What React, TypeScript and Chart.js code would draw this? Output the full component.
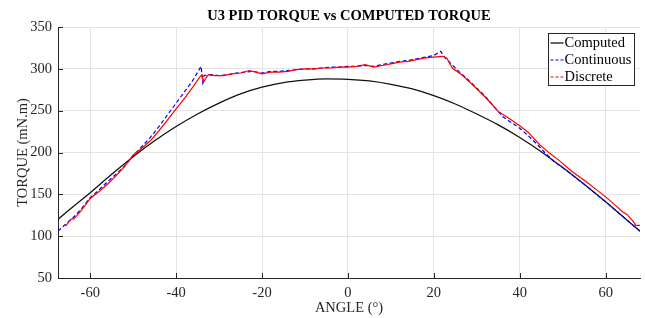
import React, { useEffect, useRef } from "react";
import { Chart, registerables } from "chart.js";

Chart.register(...registerables);

// ---- data ----
const computedAngle = [-67.5, -65, -60, -55, -50, -45, -40, -35, -30, -25, -20, -15, -10, -5, 0, 5, 10, 15, 20, 25, 30, 35, 40, 45, 50, 55, 60, 65, 68];
const computedTorque = [120, 131, 152, 174, 195, 214, 231, 246, 259, 270, 278, 283.5, 286.5, 288, 287.5, 285.5, 281.5, 276, 268, 258, 246, 233, 218, 201, 182, 162, 141, 119, 106];

const continuousAngle = [-67.5, -66, -64, -62, -60, -58, -56, -54, -52, -50, -48, -46, -44, -42, -40, -38, -36, -34.2, -33.8, -33.5, -32, -30, -28, -26, -24, -22, -20, -18, -16, -14, -12, -10, -8, -6, -4, -2, 0, 2, 4, 6, 8, 10, 12, 14, 16, 18, 20, 21.6, 22.5, 24, 26, 28, 30, 32, 34, 36, 38, 40, 42, 44, 46, 48, 50, 55, 60, 65, 68];
const continuousTorque = [106, 113, 122, 133, 146, 155, 165, 174, 184, 196, 207, 218, 231, 245, 259, 273, 287, 303, 284, 292, 293, 292, 293, 295, 296, 297, 295, 297, 297, 298, 299, 300, 300, 301, 302, 302, 303, 303, 304, 303, 305, 307, 309, 310, 312, 314, 316, 321, 314, 306, 296, 287, 277, 267, 255, 243, 236, 229, 220, 210, 199, 189, 182, 162, 141, 119, 106];

const discreteAngle = [-65.7, -64.6, -63.8, -63.2, -62, -60, -58, -56, -54, -52, -50, -48, -46, -44, -42, -40, -38, -36, -34.5, -34, -33.6, -33.2, -32.5, -31, -29, -27, -25, -23, -21.5, -20, -18, -16, -14, -12, -10, -8, -6, -4, -2, 0, 2, 4, 6, 8, 10, 12, 14, 16, 18, 20, 22, 23, 24.3, 26.7, 29, 32, 35, 38, 40, 42, 44.7, 47, 49.3, 52, 55.5, 58, 60, 62, 64, 65, 66.5, 67, 68];
const discreteTorque = [112, 120, 121, 124, 131, 145, 153, 162, 172, 183, 197, 205, 214, 226, 239, 252, 265, 279, 290, 293, 284, 288, 293, 292, 292, 294, 295, 298, 296, 294, 296, 296, 297, 299, 300, 300, 301, 301, 302, 302, 303, 305, 302, 304, 306, 308, 309, 311, 313, 314, 315, 313, 301, 292, 281, 266, 249, 239, 232, 224, 209, 199, 190, 178, 165, 155, 147, 138, 129, 126, 117, 113, 113];

const xTicks = [-60, -40, -20, 0, 20, 40, 60];
const titleText = "U3 PID TORQUE vs COMPUTED TORQUE";
const xTitle = "ANGLE (°)";
const yTitle = "TORQUE (mN.m)";
const legendLabels = ["Computed", "Continuous", "Discrete"];

const SERIF = "'Liberation Serif', 'Times New Roman', serif";
const AXIS = "#262626";

const titlePlugin = {
  id: "centeredTitle",
  afterDraw(chart: any) {
    const { ctx, chartArea } = chart;
    ctx.save();
    ctx.font = `bold 14.5px ${SERIF}`;
    ctx.fillStyle = "#000";
    ctx.textAlign = "center";
    ctx.textBaseline = "middle";
    ctx.fillText(titleText, (chartArea.left + chartArea.right) / 2, 16.5);
    ctx.restore();
  },
};

const tickPlugin = {
  id: "inwardTicks",
  afterDatasetsDraw(chart: any) {
    const { ctx, chartArea, scales } = chart;
    ctx.save();
    ctx.strokeStyle = AXIS;
    ctx.lineWidth = 1;
    ctx.beginPath();
    xTicks.forEach((v) => {
      const px = Math.round(scales.x.getPixelForValue(v)) + 0.5;
      ctx.moveTo(px, chartArea.bottom);
      ctx.lineTo(px, chartArea.bottom - 5);
    });
    scales.y.ticks.forEach((t: any) => {
      const py = Math.round(scales.y.getPixelForValue(t.value)) + 0.5;
      ctx.moveTo(chartArea.left, py);
      ctx.lineTo(chartArea.left + 5, py);
    });
    ctx.stroke();
    ctx.restore();
  },
};

const legendPlugin = {
  id: "boxLegend",
  afterDraw(chart: any) {
    const { ctx } = chart;
    const x0 = 548.5, y0 = 33.5, w = 86, h = 52;
    ctx.save();
    ctx.fillStyle = "#fff";
    ctx.fillRect(x0, y0, w, h);
    ctx.strokeStyle = AXIS;
    ctx.lineWidth = 1;
    ctx.strokeRect(x0, y0, w, h);
    const styles = [
      { color: "#000", dash: [] as number[] },
      { color: "#0000ff", dash: [3, 2] },
      { color: "#ff0000", dash: [3, 2] },
    ];
    ctx.font = `14.5px ${SERIF}`;
    ctx.textBaseline = "middle";
    ctx.textAlign = "left";
    legendLabels.forEach((lab, i) => {
      const cy = y0 + 9.5 + i * 17;
      ctx.beginPath();
      ctx.setLineDash(styles[i].dash);
      ctx.strokeStyle = styles[i].color;
      ctx.lineWidth = 1.2;
      ctx.moveTo(x0 + 2, cy);
      ctx.lineTo(x0 + 15, cy);
      ctx.stroke();
      ctx.setLineDash([]);
      ctx.fillStyle = "#000";
      ctx.fillText(lab, x0 + 16, cy);
    });
    ctx.restore();
  },
};

export default function App() {
  const ref = useRef<HTMLCanvasElement>(null);

  useEffect(() => {
    if (!ref.current) return;
    const mk = (xs: number[], ys: number[]) => xs.map((x, i) => ({ x, y: ys[i] }));
    const chart = new Chart(ref.current, {
      type: "line",
      data: {
        datasets: [
          {
            label: legendLabels[0],
            data: mk(computedAngle, computedTorque),
            borderColor: "#111",
            borderWidth: 1.3,
            pointRadius: 0,
            cubicInterpolationMode: "monotone",
            order: 3,
          },
          {
            label: legendLabels[1],
            data: mk(continuousAngle, continuousTorque),
            borderColor: "#0000ff",
            borderWidth: 1.2,
            borderDash: [4, 2.5],
            pointRadius: 0,
            tension: 0,
            order: 2,
          },
          {
            label: legendLabels[2],
            data: mk(discreteAngle, discreteTorque),
            borderColor: "#ff0000",
            borderWidth: 1.2,
            pointRadius: 0,
            tension: 0,
            order: 1,
          },
        ],
      },
      options: {
        responsive: false,
        animation: false,
        events: [],
        layout: { padding: { top: 27, right: 5, left: 0, bottom: 0 } },
        plugins: {
          legend: { display: false },
          title: { display: false },
          tooltip: { enabled: false },
        },
        scales: {
          x: {
            type: "linear",
            min: -67.5,
            max: 68,
            afterBuildTicks: (s: any) => {
              s.ticks = xTicks.map((v) => ({ value: v }));
            },
            afterFit: (s: any) => {
              s.height = 40;
            },
            grid: { color: "#e3e3e3", drawTicks: false, lineWidth: 1 },
            border: { display: true, color: AXIS, width: 1 },
            ticks: {
              color: AXIS,
              padding: 6,
              maxRotation: 0,
              font: { family: SERIF, size: 14.5 },
            },
            title: {
              display: true,
              text: xTitle,
              color: AXIS,
              font: { family: SERIF, size: 14.5 },
              padding: { top: 0, bottom: 1 },
            },
          },
          y: {
            type: "linear",
            min: 50,
            max: 350,
            ticks: {
              stepSize: 50,
              color: AXIS,
              padding: 6,
              font: { family: SERIF, size: 14.5 },
            },
            afterFit: (s: any) => {
              s.width = 58;
            },
            grid: { color: "#e3e3e3", drawTicks: false, lineWidth: 1 },
            border: { display: true, color: AXIS, width: 1 },
            title: {
              display: true,
              text: yTitle,
              color: AXIS,
              font: { family: SERIF, size: 14.5 },
              padding: { top: 14, bottom: 0 },
            },
          },
        },
      },
      plugins: [titlePlugin, tickPlugin, legendPlugin],
    } as any);
    return () => chart.destroy();
  }, []);

  return (
    <div style={{ position: "fixed", left: 0, top: 0, width: 645, height: 318, background: "#fff" }}>
      <canvas ref={ref} width={645} height={318} />
    </div>
  );
}
